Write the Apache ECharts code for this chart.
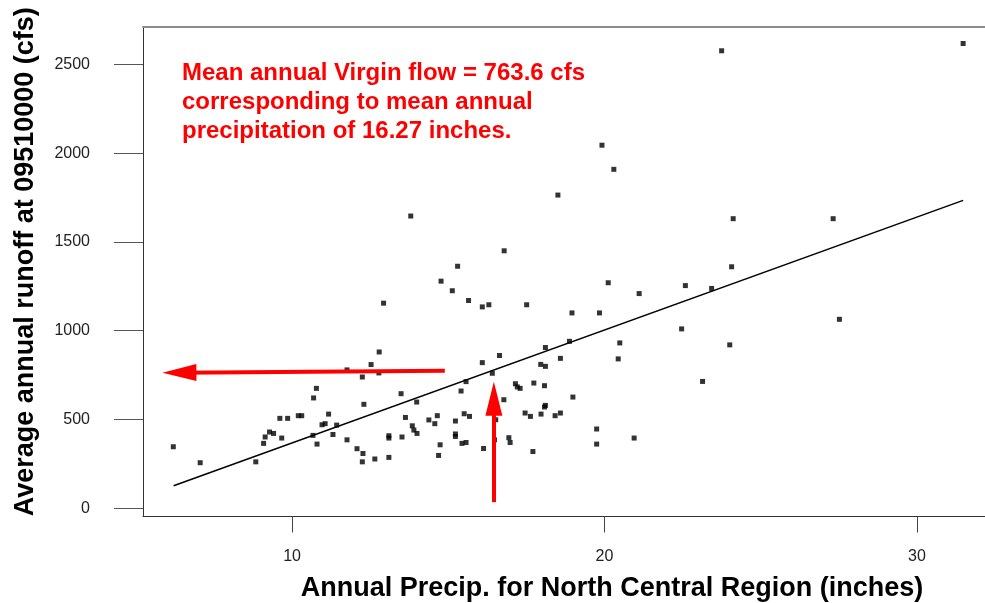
<!DOCTYPE html>
<html>
<head>
<meta charset="utf-8">
<script src="https://cdn.jsdelivr.net/npm/echarts@6/dist/echarts.min.js"></script>
<style>
html,body{margin:0;padding:0;background:#fff;}
#chart{width:985px;height:603px;}
</style>
</head>
<body>
<div id="chart"></div>
<script>
// Annual precipitation (inches) for each year
const precip = [
  13.80,19.92,20.30,18.51,16.79,15.30,23.75,31.48,24.12,27.32,24.07,23.43,27.52,24.01,23.14,
  14.77,15.13,15.65,16.09,16.30,17.51,20.12,22.59,21.11,18.96,19.84,22.47,20.49,20.44,18.88,
  18.11,16.64,16.09,18.59,17.96,18.11,16.41,15.57,15.41,17.15,17.21,17.30,17.74,18.08,18.99,
  16.78,18.11,18.08,17.46,17.63,17.97,18.42,18.59,14.38,14.57,14.65,15.23,15.51,15.68,16.52,
  15.23,15.23,14.74,14.69,15.44,15.57,16.13,16.48,16.94,16.98,17.71,19.75,19.75,20.95,
  6.20,7.06,8.84,9.09,9.14,9.28,9.41,9.67,9.61,9.86,10.20,10.31,10.69,10.78,10.67,10.80,
  10.96,11.06,11.17,11.31,11.43,11.76,12.08,12.27,12.25,12.65,13.10,13.10,13.10,13.52,13.63,
  13.85,13.90,14.00,13.99,13.49,12.30,11.76,12.25,12.53,12.79,12.78,12.93
];
// Average annual runoff (cfs) for each year
const runoff = [
  1646,2045,1909,1764,1450,1363,2577,2618,1631,1631,1360,1238,1064,920,714,
  1279,1225,1170,1134,1146,1146,1270,1254,1209,1100,1100,1010,931,841,940,
  905,860,820,844,810,799,760,713,660,701,683,675,705,690,626,
  611,579,570,536,517,530,521,536,497,476,521,491,532,517,498,
  418,404,357,297,365,370,336,385,397,370,319,446,361,395,
  346,256,261,365,401,429,421,395,506,506,521,521,621,675,410,361,
  470,476,530,415,468,385,335,308,261,277,286,408,395,401,511,
  464,440,421,598,645,585,779,739,809,880,762,1155
];
// Fitted regression line end points
const fitX = [6.21, 31.48];
const fitY = [126, 1734];
// Tick labels
const xTicks = [10, 20, 30];
const yTicks = [0, 500, 1000, 1500, 2000, 2500];
// Annotation values
const meanFlow = 763.6;
const annotation = ['Mean annual Virgin flow = 763.6 cfs', 'corresponding to mean annual', 'precipitation of 16.27 inches.'];

const scatterData = precip.map((x, i) => [x, runoff[i]]);
const fitData = fitX.map((x, i) => [x, fitY[i]]);

const XMIN = 5.23, XMAX = 32.18, YMIN = -47, YMAX = 2711;
const FONT = 'Liberation Sans, Arial, sans-serif';

const chart = echarts.init(document.getElementById('chart'), null, {renderer: 'canvas', width: 985, height: 603});
chart.setOption({
  animation: false,
  backgroundColor: '#ffffff',
  grid: {left: 143, width: 842, top: 27, height: 489.5, containLabel: false, outerBoundsMode: 'none'},
  xAxis: [{
    type: 'value', min: XMIN, max: XMAX, position: 'bottom',
    name: 'Annual Precip. for North Central Region (inches)',
    nameLocation: 'middle', nameGap: 59,
    nameTextStyle: {fontFamily: FONT, fontWeight: 'bold', fontSize: 27, color: '#000', padding: [0, 0, 0, 96]},
    axisLine: {show: true, onZero: false, lineStyle: {color: '#333', width: 1}},
    axisTick: {show: true, length: 16, customValues: xTicks, lineStyle: {color: '#444', width: 1}},
    axisLabel: {customValues: xTicks, margin: 32, fontFamily: FONT, fontSize: 16, color: '#222'},
    splitLine: {show: false}
  }, {
    type: 'value', min: XMIN, max: XMAX, position: 'top',
    axisLine: {show: true, onZero: false, lineStyle: {color: '#8c8c8c', width: 2}},
    axisTick: {show: false}, axisLabel: {show: false}, splitLine: {show: false}
  }],
  yAxis: {
    type: 'value', min: YMIN, max: YMAX,
    name: 'Average annual runoff at 09510000 (cfs)',
    nameLocation: 'middle', nameRotate: 90, nameGap: 104,
    nameTextStyle: {fontFamily: FONT, fontWeight: 'bold', fontSize: 27, color: '#000', padding: [0, 0, 0, 20]},
    axisLine: {show: true, onZero: false, lineStyle: {color: '#333', width: 1}},
    axisTick: {show: true, length: 29, customValues: yTicks, lineStyle: {color: '#555', width: 1}},
    axisLabel: {customValues: yTicks, margin: 53, fontFamily: FONT, fontSize: 16, color: '#222',
      formatter: v => String(v)},
    splitLine: {show: false}
  },
  series: [{
    type: 'scatter', data: scatterData, symbol: 'rect', symbolSize: 5,
    itemStyle: {color: '#000'}, silent: true, z: 3
  }, {
    type: 'line', data: fitData, showSymbol: false, symbol: 'none',
    lineStyle: {color: '#000', width: 1.5}, silent: true, z: 2
  }, {
    type: 'line', data: [], z: 5, silent: true,
    markLine: {
      silent: true, animation: false,
      symbol: ['none', 'triangle'], symbolSize: [17, 34],
      label: {show: false},
      lineStyle: {color: '#ff0000', width: 4, type: 'solid'},
      emphasis: {disabled: true},
      data: [
        [{coord: [14.89, 774]}, {coord: [6.395, meanFlow]}],
        [{coord: [16.46, 34]}, {coord: [16.46, 617]}]
      ]
    }
  }],
  graphic: [{
    type: 'text', left: 182, top: 59, silent: true,
    style: {
      text: annotation.join('\n'),
      font: 'bold 24px ' + FONT, fill: '#ff0000', lineHeight: 29
    }
  }]
});
</script>
</body>
</html>
